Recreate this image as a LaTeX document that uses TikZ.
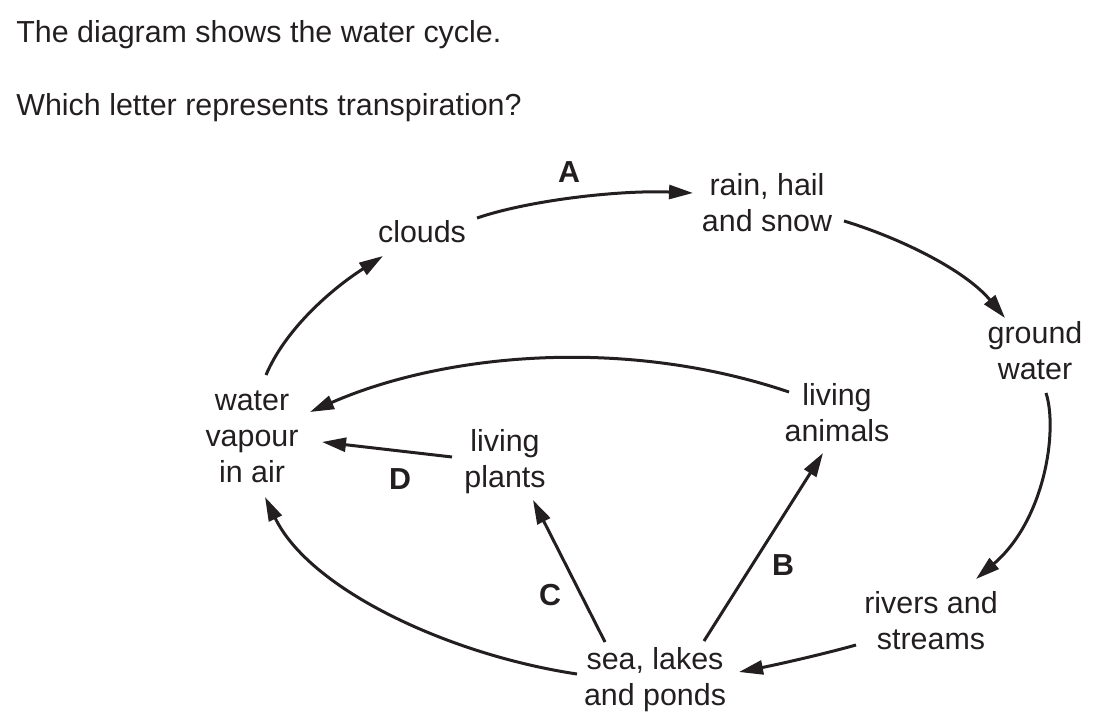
\documentclass[tikz,border=0pt]{standalone}
\usepackage{fontspec}
\setmainfont{Liberation Sans}
\usetikzlibrary{arrows.meta}
\definecolor{ink}{RGB}{35,31,32}

\begin{document}
\begin{tikzpicture}[x=0.5pt,y=-0.5pt,
            font=\fontsize{15.2}{18}\selectfont,
            every node/.style={inner sep=0pt,text=ink,align=center},
            flow/.style={draw=ink,line width=1.5pt,-{Triangle[length=12pt,width=7pt]}},
            letter/.style={font=\fontsize{15.2}{18}\selectfont\bfseries}]
            \useasboundingbox (0,0) rectangle (1096,722);

            \node[anchor=base west] (question1) at (16,43) {The diagram shows the water cycle.};
            \node[anchor=base west] (question2) at (16,115) {Which letter represents transpiration?};

            \node (clouds) at (422,232) {clouds};
            \node (rain) at (767,203) {rain, hail\\and snow};
            \node (ground) at (1035,351) {ground\\water};
            \node (vapour) at (252,437) {water\\vapour\\in air};
            \node (plants) at (505,462) {living\\plants};
            \node (animals) at (837,413) {living\\animals};
            \node (rivers) at (931,621) {rivers and\\streams};
            \node (sea) at (655,680) {sea, lakes\\and ponds};

            \node[letter] (labelA) at (569,172) {A};
            \node[letter] (labelB) at (783,565) {B};
            \node[letter] (labelC) at (550,595) {C};
            \node[letter] (labelD) at (400,479) {D};

            \draw[flow] ([shift={(55,-14)}]clouds.center) .. controls (530,200) and (620,190) .. ([shift={(-74,-10)}]rain.center);
            \draw[flow] ([shift={(77,18)}]rain.center) .. controls (900,238) and (965,270) .. ([shift={(-30,-33)}]ground.center);
            \draw[flow] ([shift={(11,42)}]ground.center) .. controls (1058,430) and (1045,520) .. ([shift={(45,-42)}]rivers.center);
            \draw[flow] ([shift={(-75,24)}]rivers.center) .. controls (820,655) and (775,665) .. ([shift={(84,-8)}]sea.center);
            \draw[flow] ([shift={(-78,-6)}]sea.center) .. controls (450,655) and (310,590) .. ([shift={(13,60)}]vapour.center);
            \draw[flow] ([shift={(-50,-38)}]sea.center) -- ([shift={(28,38)}]plants.center);
            \draw[flow] ([shift={(49,-39)}]sea.center) -- ([shift={(-14,40)}]animals.center);
            \draw[flow] ([shift={(-48,-21)}]animals.center) .. controls (620,335) and (440,355) .. ([shift={(58,-25)}]vapour.center);
            \draw[flow] ([shift={(-53,-5)}]plants.center) -- ([shift={(70,5)}]vapour.center);
            \draw[flow] ([shift={(14,-62)}]vapour.center) .. controls (285,330) and (330,290) .. ([shift={(-39,24)}]clouds.center);

        \end{tikzpicture}
\end{document}
